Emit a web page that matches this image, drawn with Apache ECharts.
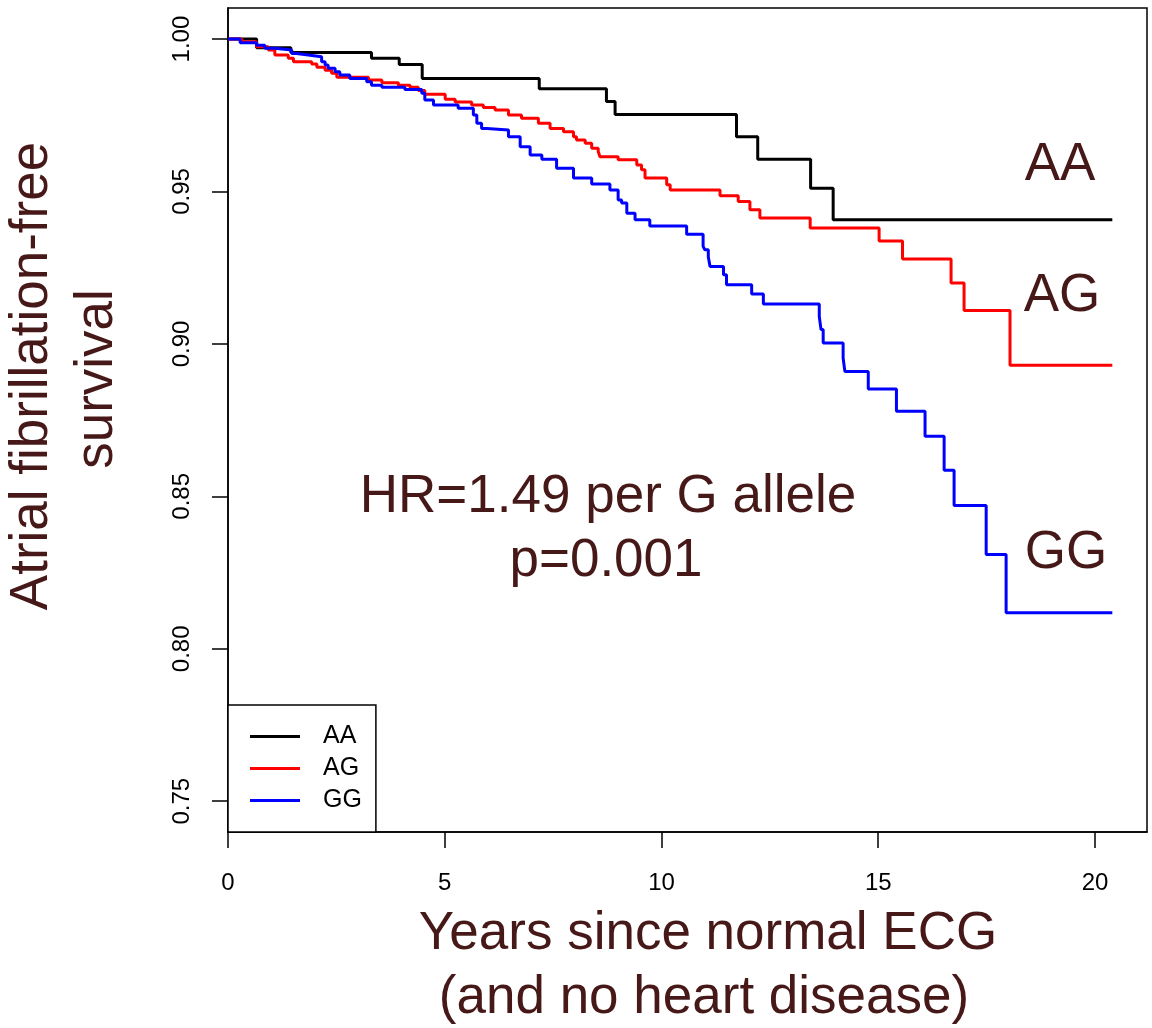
<!DOCTYPE html>
<html>
<head>
<meta charset="utf-8">
<title>AF-free survival by genotype</title>
<script src="https://cdn.jsdelivr.net/npm/echarts@6/dist/echarts.min.js"></script>
<style>
  html, body { margin: 0; padding: 0; background: #fff; }
  #main { width: 1152px; height: 1028px; }
</style>
</head>
<body>
<div id="main"></div>
<script>
// genotype groups
var groups = ['AA', 'AG', 'GG'];
var colors = ['#000000', '#ff0000', '#0000ff'];

// Kaplan-Meier steps (years, survival after the drop)
var aaTime = [0, 0.66, 1.45, 3.31, 3.95, 4.48, 7.18, 8.73, 8.93, 11.73, 12.22, 13.44, 13.96, 20.4];
var aaSurv = [1, 0.9972, 0.9956, 0.9937, 0.9917, 0.9871, 0.9837, 0.9795, 0.9753, 0.968, 0.9606, 0.9511, 0.9407, 0.9407];

var agTime = [0, 0.32, 0.66, 0.93, 1.08, 1.39, 1.51, 1.93, 2.05, 2.24, 2.39, 2.51, 3.24, 3.55, 3.93, 4.2, 4.39, 4.54,
  5.01, 5.24, 5.62, 5.89, 6.16, 6.47, 6.77, 7.16, 7.43, 7.74, 7.97, 8.04, 8.24, 8.39, 8.54, 8.58, 9.0, 9.43, 9.54,
  9.62, 10.12, 10.2, 11.35, 11.77, 12.04, 12.27, 13.43, 15.02, 15.56, 16.68, 16.98, 18.04, 20.4];
var agSurv = [1, 0.9991, 0.9975, 0.9964, 0.9948, 0.9937, 0.9926, 0.9918, 0.9908, 0.9898, 0.9888, 0.9875, 0.9866,
  0.9857, 0.9849, 0.9842, 0.9831, 0.9819, 0.9803, 0.9794, 0.9784, 0.9776, 0.9767, 0.9751, 0.974, 0.9724, 0.9707,
  0.9696, 0.968, 0.9669, 0.9658, 0.9642, 0.9631, 0.9614, 0.9604, 0.9587, 0.9571, 0.9544, 0.9522, 0.9505, 0.9486,
  0.9467, 0.944, 0.9413, 0.938, 0.9338, 0.9279, 0.92, 0.911, 0.893, 0.893];

var ggTime = [0, 0.28, 0.66, 0.85, 1.08, 1.47, 1.58, 1.85, 2.16, 2.24, 2.31, 2.47, 2.58, 2.81, 3.2, 3.31, 3.55, 4.08,
  4.47, 4.54, 4.74, 5.31, 5.66, 5.74, 5.85, 5.97, 6.47, 6.74, 6.97, 7.24, 7.58, 7.97, 8.39, 8.81, 9.0, 9.08, 9.2,
  9.39, 9.73, 10.58, 10.96, 11.0, 11.08, 11.12, 11.43, 11.5, 12.08, 12.35, 13.64, 13.68, 13.73, 14.19, 14.23, 14.77,
  15.42, 16.08, 16.52, 16.75, 17.49, 17.95, 20.4];
var ggSurv = [1, 0.9988, 0.998, 0.997, 0.9964, 0.9953, 0.9948, 0.9942, 0.9926, 0.9915, 0.9904, 0.9893, 0.9882,
  0.9871, 0.986, 0.9849, 0.9842, 0.9835, 0.9822, 0.98, 0.9784, 0.9773, 0.9751, 0.9724, 0.9707, 0.9702, 0.968,
  0.9647, 0.962, 0.9606, 0.9576, 0.9544, 0.9525, 0.9505, 0.9472, 0.9462, 0.9429, 0.9407, 0.9387, 0.936, 0.932,
  0.9309, 0.9285, 0.9254, 0.9227, 0.9194, 0.9164, 0.9131, 0.909, 0.9047, 0.9003, 0.8954, 0.891, 0.8852, 0.8779,
  0.8697, 0.8586, 0.847, 0.8309, 0.8118, 0.8118];

// axis ticks
var xTicks = [0, 5, 10, 15, 20];
var yTicks = [0.75, 0.80, 0.85, 0.90, 0.95, 1.00];

var textColor = '#461818';
var fontFam = '"Liberation Sans", Arial, sans-serif';

function pairs(t, s) {
  var out = [];
  for (var i = 0; i < t.length; i++) out.push([t[i], s[i]]);
  return out;
}

var allTimes = [aaTime, agTime, ggTime];
var allSurv = [aaSurv, agSurv, ggSurv];

var series = [];
for (var g = 0; g < groups.length; g++) {
  series.push({
    name: groups[g],
    type: 'line',
    step: 'end',
    showSymbol: false,
    data: pairs(allTimes[g], allSurv[g]),
    lineStyle: { color: colors[g], width: 3 },
    itemStyle: { color: colors[g] },
    z: 3 + g
  });
}

function bigText(txt, x, y, rot) {
  return {
    type: 'text', x: x, y: y, rotation: rot || 0,
    style: { text: txt, fill: textColor, font: '53px ' + fontFam, align: 'center', verticalAlign: 'middle' }
  };
}

var myChart = echarts.init(document.getElementById('main'));
var option = {
  animation: false,
  backgroundColor: '#ffffff',
  grid: { left: 228, right: 5, top: 8, bottom: 196, show: true, borderColor: '#000', borderWidth: 1.5 },
  xAxis: {
    type: 'value', min: 0, max: 21.2,
    splitLine: { show: false },
    axisLine: { lineStyle: { color: '#000', width: 1.5 } },
    axisTick: { length: 16, lineStyle: { color: '#000', width: 1.5 }, customValues: xTicks },
    axisLabel: { customValues: xTicks, color: '#000', fontSize: 24, fontFamily: fontFam, margin: 39 }
  },
  yAxis: {
    type: 'value', min: 0.7399, max: 1.0102,
    splitLine: { show: false },
    axisLine: { lineStyle: { color: '#000', width: 1.5 } },
    axisTick: { length: 16, lineStyle: { color: '#000', width: 1.5 }, customValues: yTicks },
    axisLabel: {
      customValues: yTicks, rotate: 90, color: '#000', fontSize: 24, fontFamily: fontFam, margin: 34,
      formatter: function (v) { return v.toFixed(2); }
    }
  },
  legend: {
    data: groups,
    orient: 'vertical',
    left: 228, top: 705,
    icon: 'rect',
    itemWidth: 50, itemHeight: 3,
    itemGap: 7,
    padding: [19, 14, 19, 22],
    borderColor: '#000', borderWidth: 1.5,
    backgroundColor: '#fff',
    textStyle: { color: '#000', fontSize: 25, fontFamily: fontFam, lineHeight: 25, padding: [0, 0, 0, 18] }
  },
  graphic: [
    bigText('AA', 1060, 165),
    bigText('AG', 1062, 296),
    bigText('GG', 1066, 553),
    bigText('HR=1.49 per G allele', 608, 497),
    bigText('p=0.001', 606, 561),
    bigText('Years since normal ECG', 708, 934),
    bigText('(and no heart disease)', 704, 998),
    bigText('Atrial fibrillation-free', 32, 376, Math.PI / 2),
    bigText('survival', 97, 379, Math.PI / 2)
  ],
  series: series
};
myChart.setOption(option);
</script>
</body>
</html>
